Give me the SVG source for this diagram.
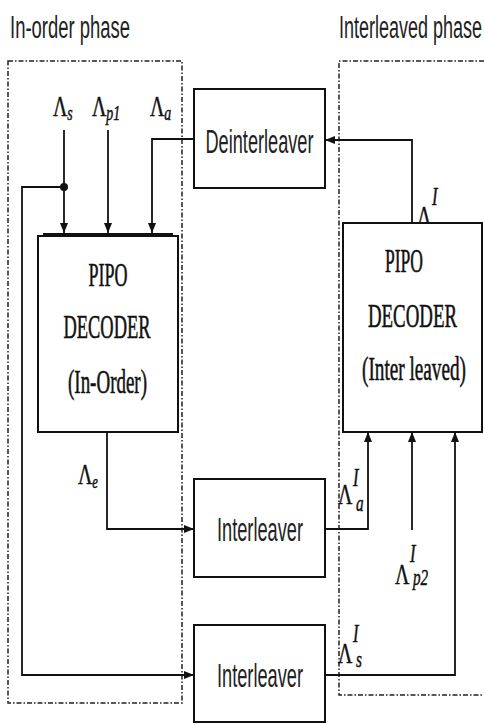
<svg xmlns="http://www.w3.org/2000/svg" width="484" height="724" viewBox="0 0 484 724">
<defs>
<marker id="ah" viewBox="0 0 10 8" refX="10" refY="4" markerWidth="10" markerHeight="8" markerUnits="userSpaceOnUse" orient="auto">
<path d="M0,0 L10,4 L0,8 z" fill="#111"/>
</marker>
<style>
.title{font-family:"Liberation Sans",Arial,sans-serif;font-size:31px;fill:#222}
.box{fill:#fff;stroke:#111;stroke-width:2}
.lbl{font-family:"Liberation Sans",Arial,sans-serif;font-size:34px;fill:#222;text-anchor:middle}
.dec{font-family:"Liberation Serif","Times New Roman",serif;font-size:34px;fill:#111;stroke:#111;stroke-width:0.6;text-anchor:middle}
.lam{font-family:"Liberation Serif","Times New Roman",serif;font-size:30px;fill:#111;stroke:#111;stroke-width:0.5}
.it{font-style:italic}
.zone{fill:none;stroke:#222;stroke-width:1.5;stroke-dasharray:5 2 1.5 2}
.con{fill:none;stroke:#111;stroke-width:1.8}
.arr{marker-end:url(#ah)}
</style>
</defs>
<rect width="484" height="724" fill="#fff"/>

<g id="phases">
<rect class="zone" x="8" y="61" width="174" height="642"/>
<path class="zone" d="M484,61 H339 V695 H484"/>
<text class="title" x="10" y="38" textLength="120" lengthAdjust="spacingAndGlyphs">In-order phase</text>
<text class="title" x="339" y="38" textLength="143" lengthAdjust="spacingAndGlyphs">Interleaved phase</text>
</g>

<g id="connectors">
<path class="con arr" d="M64,130 V233"/>
<path class="con arr" d="M108,130 V233"/>
<path class="con arr" d="M194,139 H152 V233"/>
<path class="con arr" d="M64,187 H22 V675 H194"/>
<circle cx="64" cy="187" r="4" fill="#111"/>
<path class="con arr" d="M107,432 V529 H194"/>
<path class="con arr" d="M325,529 H368 V432"/>
<path class="con arr" d="M412,530 V432"/>
<path class="con arr" d="M325,675 H455 V432"/>
<path class="con arr" d="M412,223 V140 H325"/>
</g>

<g id="labels">
<text class="lam" transform="translate(53,116) scale(0.66,1)">Λ<tspan class="it" font-size="21" dy="4">s</tspan></text>
<text class="lam" transform="translate(92,116) scale(0.66,1)">Λ<tspan class="it" font-size="21" dy="4">p1</tspan></text>
<text class="lam" transform="translate(150,116) scale(0.66,1)">Λ<tspan class="it" font-size="21" dy="4">a</tspan></text>
<text class="lam" transform="translate(78,484) scale(0.66,1)">Λ<tspan class="it" font-size="19" dy="4">e</tspan></text>
<text class="lam" transform="translate(338,504) scale(0.66,1)">Λ<tspan class="it" font-size="25" dx="1" dy="-18">I</tspan><tspan class="it" font-size="23" dx="-4" dy="25">a</tspan></text>
<text class="lam" transform="translate(395,584) scale(0.66,1)">Λ<tspan class="it" font-size="25" dx="1" dy="-22">I</tspan><tspan class="it" font-size="23" dx="-4" dy="23">p2</tspan></text>
<text class="lam" transform="translate(338,663) scale(0.66,1)">Λ<tspan class="it" font-size="25" dx="1" dy="-21">I</tspan><tspan class="it" font-size="23" dx="-4" dy="25">s</tspan></text>
<text class="lam" transform="translate(417,226) scale(0.66,1)">Λ<tspan class="it" font-size="25" dx="1" dy="-21">I</tspan><tspan font-size="22" dx="2" dy="21">.</tspan></text>
</g>

<g id="deinterleaver">
<rect class="box" x="194" y="89" width="131" height="99"/>
<text class="lbl" x="259.5" y="153" textLength="108" lengthAdjust="spacingAndGlyphs">Deinterleaver</text>
</g>

<g id="decoder-inorder">
<rect class="box" x="38" y="236" width="140" height="196"/>
<line x1="43" y1="235" x2="173" y2="235" stroke="#111" stroke-width="4"/>
<text class="dec" x="108" y="286" textLength="39" lengthAdjust="spacingAndGlyphs">PIPO</text>
<text class="dec" x="107" y="338" textLength="87" lengthAdjust="spacingAndGlyphs">DECODER</text>
<text class="dec" x="107.5" y="393" textLength="79" lengthAdjust="spacingAndGlyphs">(In-Order)</text>
</g>

<g id="decoder-interleaved">
<rect class="box" x="343" y="223" width="139" height="209" stroke-width="2.5"/>
<text class="dec" x="404" y="272" textLength="38" lengthAdjust="spacingAndGlyphs">PIPO</text>
<text class="dec" x="412.5" y="327" textLength="89" lengthAdjust="spacingAndGlyphs">DECODER</text>
<text class="dec" x="414" y="380" textLength="104" lengthAdjust="spacingAndGlyphs">(Inter leaved)</text>
</g>

<g id="interleaver-1">
<rect class="box" x="194" y="479" width="131" height="98"/>
<text class="lbl" x="260" y="541" textLength="86" lengthAdjust="spacingAndGlyphs">Interleaver</text>
</g>

<g id="interleaver-2">
<rect class="box" x="194" y="625" width="131" height="97"/>
<text class="lbl" x="260" y="687" textLength="86" lengthAdjust="spacingAndGlyphs">Interleaver</text>
</g>
</svg>
